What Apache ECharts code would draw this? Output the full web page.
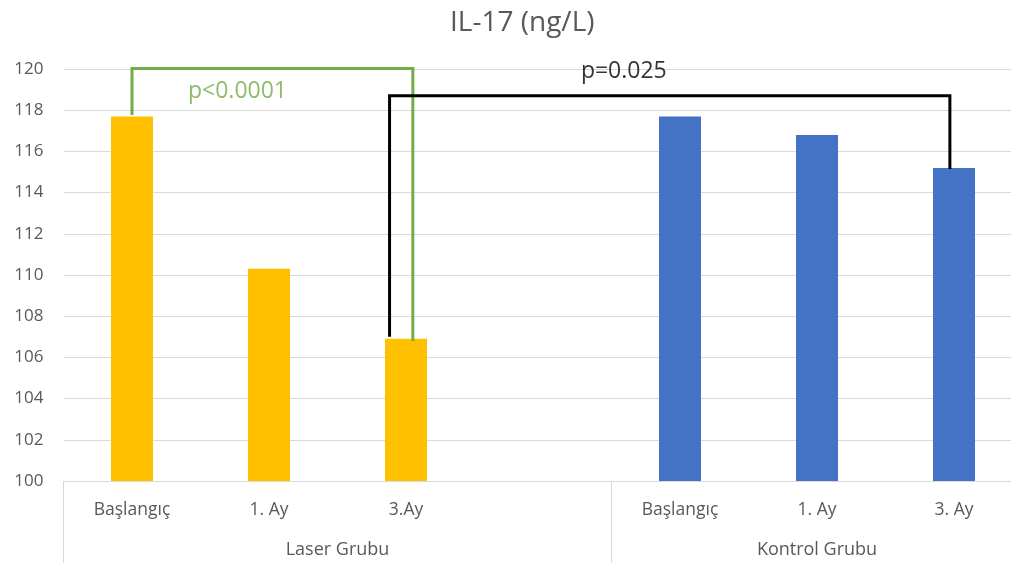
<!DOCTYPE html>
<html>
<head>
<meta charset="utf-8">
<script src="https://cdn.jsdelivr.net/npm/echarts@6/dist/echarts.min.js"></script>
<style>html,body{margin:0;padding:0;background:#fff;overflow:hidden;width:1011px;height:567px}#c{width:1023px;height:567px}</style>
</head>
<body>
<div id="c"></div>
<script>
const title = 'IL-17 (ng/L)';
const categories = ['Başlangıç', '1. Ay', '3.Ay', '', 'Başlangıç', '1. Ay', '3. Ay'];
const groupNames = ['Laser Grubu', 'Kontrol Grubu'];
const groupSizes = [4, 3];
const laserValues = [117.7, 110.3, 106.9, null, null, null, null];
const kontrolValues = [null, null, null, null, 117.7, 116.8, 115.2];
const yTicks = { min: 100, max: 120, step: 2 };
const greenBracket = [[0, 117.77], [0, 120.03], [2.05, 120.03], [2.05, 106.8]];
const blackBracket = [[1.88, 107.0], [1.88, 118.7], [5.97, 118.7], [5.97, 115.15]];
const pLabels = [
  { name: 'p<0.0001', value: [0.77, 118.9] },
  { name: 'p=0.025', value: [3.59, 119.87] }
];

const FONT = 'Open Sans';
const GRAY = '#595959';
const GRID = '#d9d9d9';

// group boundaries and centers on the value overlay axis
const bounds = [-0.5];
const centers = [];
groupSizes.forEach(s => { const a = bounds[bounds.length - 1]; centers.push(a + s / 2); bounds.push(a + s); });

const chart = echarts.init(document.getElementById('c'));
chart.setOption({
  animation: false,
  title: {
    text: title, left: 445, top: 4,
    textStyle: { fontFamily: FONT, fontSize: 28, fontWeight: 'normal', color: GRAY }
  },
  grid: { left: 63.5, right: 0.5, top: 69, bottom: 86, containLabel: false },
  xAxis: [
    {
      type: 'category', data: categories, position: 'bottom',
      axisLine: { lineStyle: { color: GRID, width: 1 } },
      axisTick: { show: false },
      axisLabel: { color: GRAY, fontFamily: FONT, fontSize: 17.5, margin: 20, interval: 0 },
      splitLine: { show: false }
    },
    {
      type: 'value', min: bounds[0], max: bounds[bounds.length - 1], position: 'bottom',
      axisLine: { show: false },
      splitLine: { show: false },
      axisTick: { show: true, customValues: bounds, length: 82, lineStyle: { color: GRID, width: 1 } },
      axisLabel: {
        show: true, customValues: centers, margin: 60, color: GRAY, fontFamily: FONT, fontSize: 18,
        formatter: v => { const i = centers.findIndex(c => Math.abs(c - v) < 1e-6); return i >= 0 ? groupNames[i] : ''; }
      }
    }
  ],
  yAxis: {
    type: 'value', min: yTicks.min, max: yTicks.max, interval: yTicks.step,
    axisLine: { show: false }, axisTick: { show: false },
    axisLabel: { color: GRAY, fontFamily: FONT, fontSize: 17, margin: 20 },
    splitLine: { lineStyle: { color: GRID, width: 1 } }
  },
  series: [
    { type: 'bar', name: 'Laser', data: laserValues, barWidth: 42, barGap: '-100%', itemStyle: { color: '#FFC000' } },
    { type: 'bar', name: 'Kontrol', data: kontrolValues, barWidth: 42, barGap: '-100%', itemStyle: { color: '#4472C4' } },
    { type: 'line', xAxisIndex: 1, data: greenBracket, symbol: 'none', clip: false, z: 5,
      lineStyle: { color: '#70AD47', width: 3, join: 'miter' } },
    { type: 'line', xAxisIndex: 1, data: blackBracket, symbol: 'none', clip: false, z: 5,
      lineStyle: { color: '#000000', width: 3, join: 'miter' } },
    { type: 'scatter', xAxisIndex: 1, symbolSize: 0, clip: false, z: 6,
      data: pLabels.map((p, i) => ({ name: p.name, value: p.value,
        label: { color: i === 0 ? '#70AD47' : '#000000' } })),
      label: { show: true, position: 'inside', formatter: p => p.name, fontFamily: FONT, fontSize: 23 } }
  ]
});
</script>
</body>
</html>
